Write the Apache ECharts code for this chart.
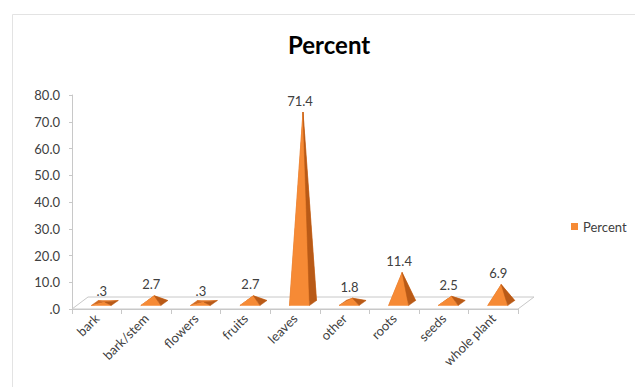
<!DOCTYPE html>
<html>
<head>
<meta charset="utf-8">
<script src="https://cdn.jsdelivr.net/npm/echarts@6/dist/echarts.min.js"></script>
<style>
html,body{margin:0;padding:0;background:#fff;}
#chart{width:635px;height:387px;}
</style>
</head>
<body>
<div id="chart"></div>
<script>
const categories = ['bark','bark/stem','flowers','fruits','leaves','other','roots','seeds','whole plant'];
const percentValues = [0.3, 2.7, 0.3, 2.7, 71.4, 1.8, 11.4, 2.5, 6.9];
const yTicks = [0, 10, 20, 30, 40, 50, 60, 70, 80];
const seriesName = 'Percent';

const FONT = 'Lato, "Open Sans", "Liberation Sans", sans-serif';
const TXT = '#404040';
const EDGE = '#c8c8c8';

function fmtNum(v) {
  const s = Number(v).toFixed(1);
  return s.replace(/^0\./, '.');
}
function fmtLabel(v) {
  return String(v).replace(/^0\./, '.');
}

const chart = echarts.init(document.getElementById('chart'), null, {renderer: 'svg'});

function poly(points, color) {
  return {type: 'polygon', shape: {points: points}, style: {fill: color, stroke: color, lineWidth: 0.5}};
}

function renderPyramid(params, api) {
  const idx = api.value(0);
  const v = api.value(1);
  const c = api.coord([idx, 0]);
  const t = api.coord([idx, v]);
  const ox = 8, oy = -6, w = 10, dx = 3.5, dy = -2.5;
  const bx = c[0] + ox, by = c[1] + oy;
  const FL = [bx - w - dx, by - dy];
  const FR = [bx + w - dx, by - dy];
  const BR = [bx + w + dx, by + dy];
  const BL = [bx - w + dx, by + dy];
  const A = [t[0] + ox, t[1] + oy];
  return {
    type: 'group',
    children: [
      poly([BL, BR, A], '#e57a2b'),
      poly([FL, BL, A], '#d06a22'),
      poly([FL, FR, A], '#f68a35'),
      poly([FR, BR, A], '#b95a17'),
      {type: 'text', style: {text: fmtLabel(v), x: A[0] - 3, y: A[1] - 5, align: 'center', verticalAlign: 'bottom',
        fontSize: 13, fontFamily: FONT, fill: TXT}}
    ]
  };
}

function renderFloor(params, api) {
  const cs = params.coordSys;
  const x0 = cs.x, x1 = cs.x + cs.width, yb = cs.y + cs.height;
  const ddx = 16, ddy = -12;
  return {
    type: 'polygon',
    shape: {points: [[x0, yb], [x0 + ddx, yb + ddy], [x1 + ddx, yb + ddy], [x1, yb]]},
    style: {fill: '#ffffff', stroke: EDGE, lineWidth: 1}
  };
}

const pyramidData = percentValues.map((v, i) => [i, v]);

chart.setOption({
  animation: false,
  backgroundColor: '#ffffff',
  title: {
    text: 'Percent',
    left: 283,
    top: 27,
    textStyle: {fontSize: 24, fontWeight: 'bold', fontFamily: FONT, color: '#000000'}
  },
  legend: {
    data: [seriesName],
    left: 571,
    top: 220,
    icon: 'rect',
    itemWidth: 7,
    itemHeight: 7,
    itemGap: 5,
    padding: 0,
    textStyle: {fontSize: 13, fontFamily: FONT, color: TXT, padding: [0, 0, 0, 0]}
  },
  graphic: [
    {type: 'polyline', shape: {points: [[12.5, 387], [12.5, 14.5], [635, 14.5]]},
     style: {stroke: '#e3e3e3', lineWidth: 1, fill: null}, silent: true}
  ],
  grid: {left: 72, right: 117, top: 95, bottom: 78},
  xAxis: {
    type: 'category',
    data: categories,
    boundaryGap: true,
    axisLine: {show: true, lineStyle: {color: EDGE, width: 1}},
    axisTick: {show: true, length: 5, alignWithLabel: false, lineStyle: {color: EDGE}},
    axisLabel: {rotate: 45, fontSize: 13, fontFamily: FONT, color: TXT, margin: 7, interval: 0},
    splitLine: {show: false},
    z: 5
  },
  yAxis: {
    type: 'value',
    min: yTicks[0],
    max: yTicks[yTicks.length - 1],
    interval: yTicks[1] - yTicks[0],
    axisLine: {show: true, lineStyle: {color: EDGE, width: 1}},
    axisTick: {show: true, length: 3, lineStyle: {color: EDGE}},
    axisLabel: {fontSize: 13, fontFamily: FONT, color: TXT, margin: 12, formatter: fmtNum},
    splitLine: {show: false}
  },
  series: [
    {
      type: 'custom',
      name: 'floor',
      silent: true,
      z: 1,
      renderItem: renderFloor,
      data: [[0, 0]],
      encode: {x: 0, y: 1}
    },
    {
      type: 'custom',
      name: seriesName,
      z: 10,
      itemStyle: {color: '#f68a35'},
      renderItem: renderPyramid,
      data: pyramidData,
      encode: {x: 0, y: 1}
    }
  ]
});
</script>
</body>
</html>
